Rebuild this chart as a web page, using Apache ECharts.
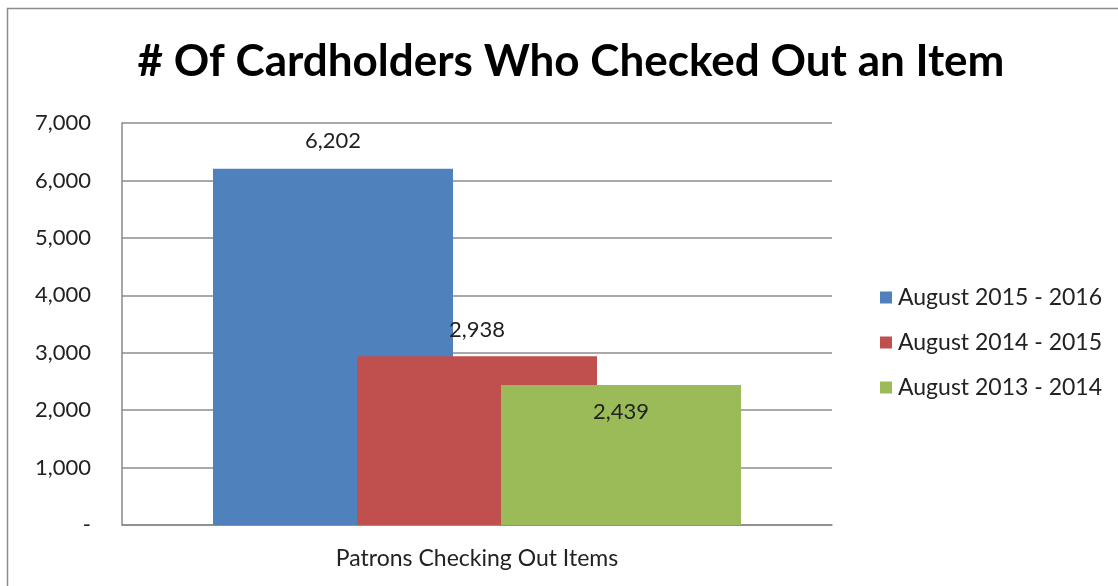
<!DOCTYPE html>
<html><head><meta charset="utf-8">
<script src="https://cdn.jsdelivr.net/npm/echarts@6/dist/echarts.min.js"></script>
<style>html,body{margin:0;padding:0;background:#fff}#c{width:1118px;height:586px}</style>
</head><body><div id="c"></div>
<script>
const categories = ["Patrons Checking Out Items"];
const seriesNames = ["August 2015 - 2016", "August 2014 - 2015", "August 2013 - 2014"];
const values2015_2016 = [6202];
const values2014_2015 = [2938];
const values2013_2014 = [2439];
const colors = ["#4F81BD", "#C0504D", "#9BBB59"];
const FONT = "Lato";

const chart = echarts.init(document.getElementById('c'));
function fmt(v){ return v === 0 ? '-' : v.toLocaleString('en-US'); }
const lbl = (pos, dist) => ({show:true, position:pos, distance:dist, fontFamily:FONT, fontSize:22, color:'#222', formatter:p=>fmt(p.value)});
chart.setOption({
  animation:false,
  title:{text:'# Of Cardholders Who Checked Out an Item', left:566, textAlign:'center', top:35,
    textStyle:{fontFamily:FONT, fontWeight:'bold', fontSize:44, color:'#000'}},
  graphic:[{type:'rect', shape:{x:7.5,y:8.5,width:1200,height:600}, style:{fill:'none', stroke:'#8c8c8c', lineWidth:1.5}, silent:true}],
  legend:{orient:'vertical', left:875, top:281, itemGap:22, itemWidth:12, itemHeight:12, icon:'rect',
    textStyle:{fontFamily:FONT, fontSize:23, color:'#222', padding:[0,0,0,1]}, data:seriesNames},
  grid:{left:122, right:286, top:123, bottom:61},
  xAxis:{type:'category', data:categories, axisTick:{show:false},
    axisLine:{lineStyle:{color:'#888', width:1.5}},
    axisLabel:{fontFamily:FONT, fontSize:23, color:'#222', margin:22}},
  yAxis:{type:'value', min:0, max:7000, interval:1000,
    axisLine:{show:true, lineStyle:{color:'#888', width:1.5}}, axisTick:{show:false},
    splitLine:{lineStyle:{color:'#8c8c8c', width:1.5}},
    axisLabel:{fontFamily:FONT, fontSize:22, color:'#222', margin:31, formatter:fmt}},
  series:[
    {name:seriesNames[0], type:'bar', data:values2015_2016, barWidth:240, barGap:'-40%', itemStyle:{color:colors[0]}, label:lbl('top',17)},
    {name:seriesNames[1], type:'bar', data:values2014_2015, barWidth:240, barGap:'-40%', itemStyle:{color:colors[1]}, label:lbl('top',15)},
    {name:seriesNames[2], type:'bar', data:values2013_2014, barWidth:240, barGap:'-40%', itemStyle:{color:colors[2]}, label:lbl('insideTop',16)}
  ]
});
</script></body></html>
